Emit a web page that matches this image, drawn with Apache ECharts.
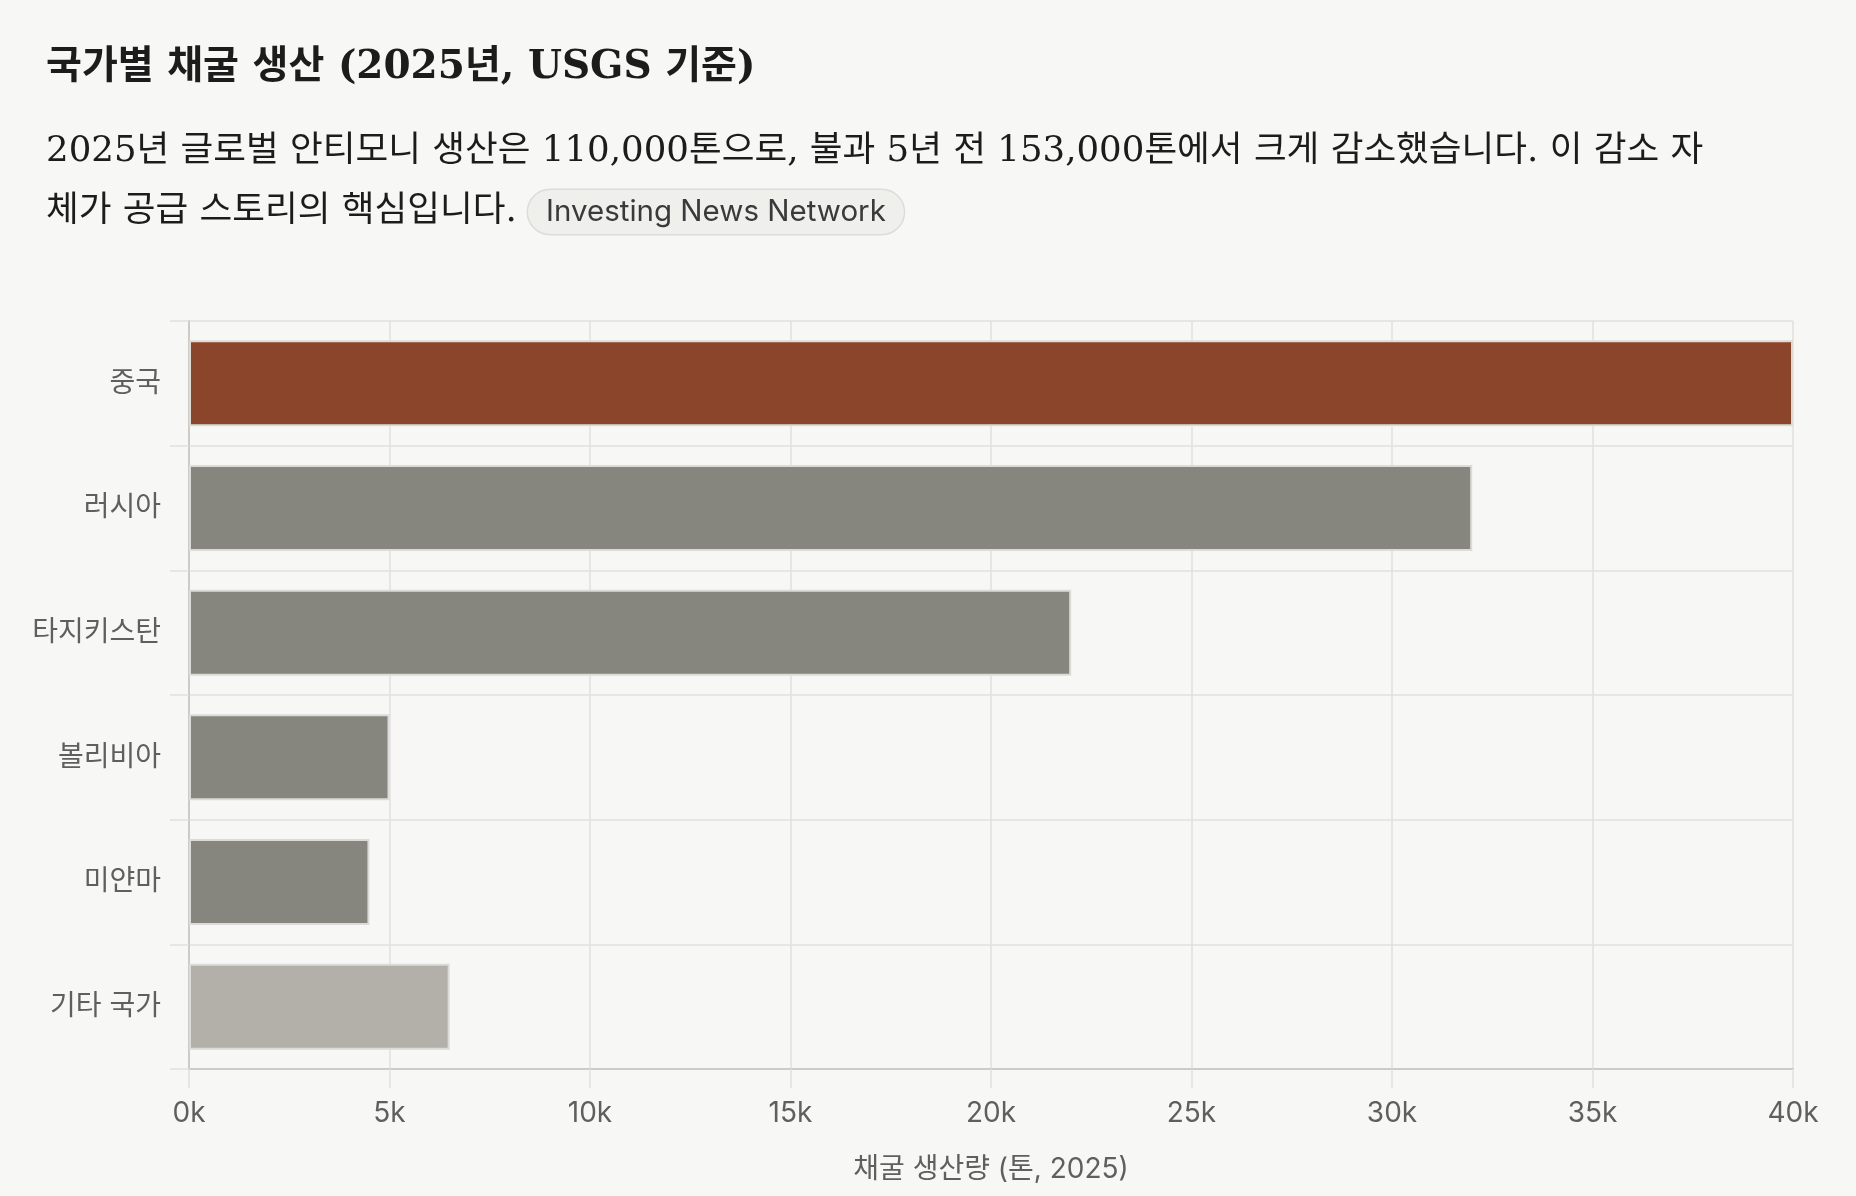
<!DOCTYPE html>
<html lang="ko">
<head>
<meta charset="utf-8">
<title>국가별 채굴 생산</title>
<script src="https://cdn.jsdelivr.net/npm/echarts@6/dist/echarts.min.js"></script>
<style>
  html, body { margin: 0; padding: 0; background: #f7f7f5; }
  #chart { width: 1856px; height: 1196px; }
</style>
</head>
<body>
<div id="chart"></div>
<script>
// 데이터
const countries = ['중국', '러시아', '타지키스탄', '볼리비아', '미얀마', '기타 국가']
const production = [40000, 32000, 22000, 5000, 4500, 6500]
const xTicks = [0, 5000, 10000, 15000, 20000, 25000, 30000, 35000, 40000]

const titleText = '국가별 채굴 생산 (2025년, USGS 기준)'
const subLine1 = '2025년 글로벌 안티모니 생산은 110,000톤으로, 불과 5년 전 153,000톤에서 크게 감소했습니다. 이 감소 자'
const subLine2 = '체가 공급 스토리의 핵심입니다.'
const sourceText = 'Investing News Network'
const axisName = '채굴 생산량 (톤, 2025)'

// 색상
const CHINA = '#8b452a'
const GRAY = '#87867e'
const OTHER = '#b3b0a9'
const GRID = '#e1e1de'
const AXIS = '#cbcbc8'
const LABEL = '#5f5f5f'

const serif = "'DejaVu Serif', 'Noto Sans CJK KR', serif"
const sans = "Inter, 'Noto Sans CJK KR', sans-serif"

const chart = echarts.init(document.getElementById('chart'))

const option = {
  backgroundColor: '#f7f7f5',
  animation: false,
  title: [
    {
      text: titleText,
      left: 41,
      top: 43,
      textStyle: {
        fontFamily: serif,
        fontSize: 39,
        fontWeight: 'bold',
        color: '#1c1c1c'
      }
    },
    {
      text: subLine1 + '\n' + subLine2 + ' {pill|' + sourceText + '}',
      left: 41,
      top: 117,
      textStyle: {
        fontFamily: serif,
        fontSize: 35.6,
        fontWeight: 'normal',
        lineHeight: 60,
        color: '#1c1c1c',
        rich: {
          pill: {
            fontFamily: sans,
            fontSize: 29.5,
            fontWeight: 'normal',
            color: '#3a3a3a',
            backgroundColor: '#efefec',
            borderColor: '#dcdcd8',
            borderWidth: 1.5,
            borderRadius: 22,
            height: 44,
            padding: [0, 18]
          }
        }
      }
    }
  ],
  grid: {
    left: 189,
    right: 63,
    top: 321,
    bottom: 127,
    containLabel: false
  },
  xAxis: {
    type: 'value',
    min: xTicks[0],
    max: xTicks[xTicks.length - 1],
    interval: xTicks[1] - xTicks[0],
    name: axisName,
    nameLocation: 'middle',
    nameGap: 87,
    nameTextStyle: {
      fontFamily: sans,
      fontSize: 28,
      color: LABEL
    },
    axisLine: { show: true, lineStyle: { color: AXIS, width: 2 } },
    axisTick: { show: true, length: 19, lineStyle: { color: GRID, width: 1.5 } },
    axisLabel: {
      margin: 31,
      fontFamily: sans,
      fontSize: 28,
      color: LABEL,
      formatter: v => (v / 1000) + 'k'
    },
    splitLine: { show: true, lineStyle: { color: GRID, width: 1.5 } }
  },
  yAxis: {
    type: 'category',
    data: countries,
    inverse: true,
    axisLine: { show: true, lineStyle: { color: AXIS, width: 2 } },
    axisTick: { show: true, length: 19, lineStyle: { color: GRID, width: 1.5 } },
    axisLabel: {
      margin: 28,
      fontFamily: sans,
      fontSize: 28,
      color: LABEL
    },
    splitLine: { show: true, lineStyle: { color: GRID, width: 1.5 } }
  },
  series: [
    {
      name: '채굴 생산량',
      type: 'bar',
      barWidth: 86,
      data: production.map((v, i) => ({
        value: v,
        itemStyle: {
          color: i === 0 ? CHINA : (i === countries.length - 1 ? OTHER : GRAY)
        }
      })),
      itemStyle: {
        borderColor: '#dcdbd7',
        borderWidth: 2
      }
    }
  ]
}

chart.setOption(option)
</script>
</body>
</html>
